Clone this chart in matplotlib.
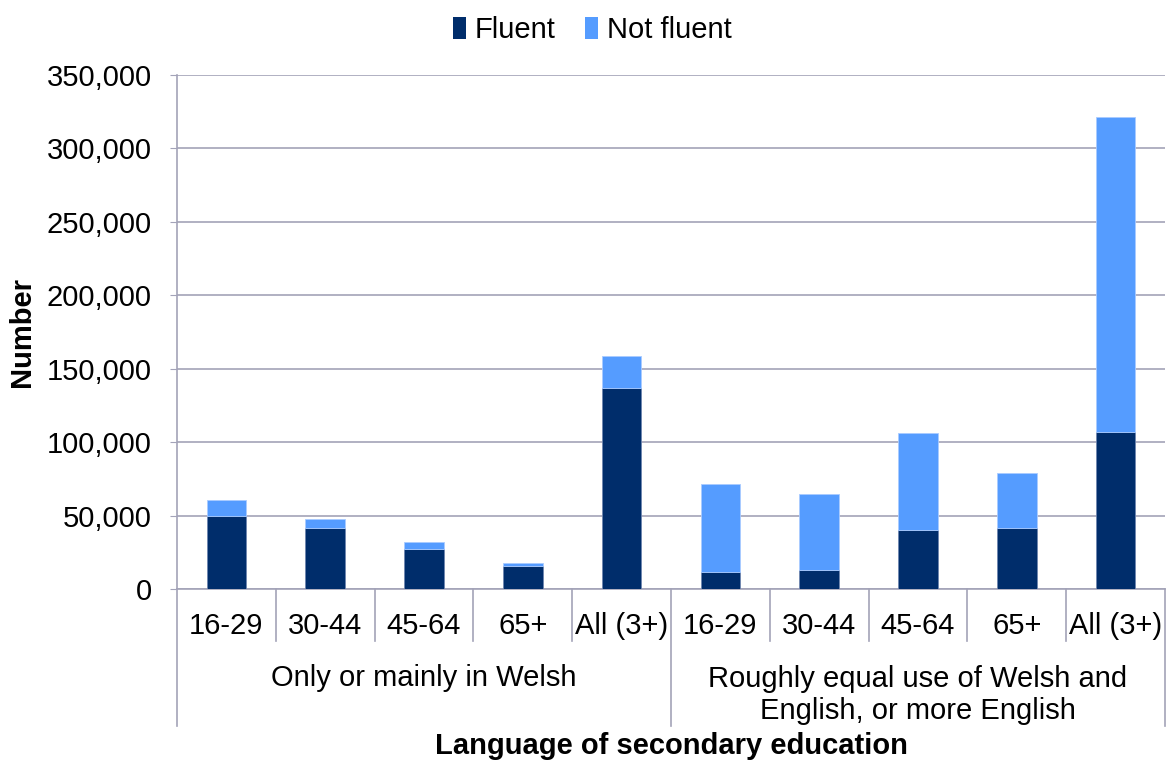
import matplotlib
matplotlib.use("Agg")
import matplotlib.pyplot as plt
from matplotlib.patches import Patch
from matplotlib.transforms import blended_transform_factory

plt.rcParams['font.family'] = ['Liberation Sans', 'DejaVu Sans']

age_labels = ["16-29", "30-44", "45-64", "65+", "All (3+)",
              "16-29", "30-44", "45-64", "65+", "All (3+)"]
group_labels = ["Only or mainly in Welsh",
                "Roughly equal use of Welsh and\nEnglish, or more English"]
fluent = [50000, 41400, 27300, 15800, 136800,
          11600, 13100, 40300, 41700, 107000]
total = [60900, 47500, 31900, 17600, 158800,
         71200, 64400, 106100, 78700, 321300]
not_fluent = [t - f for t, f in zip(total, fluent)]

c_fluent = "#002D6B"
c_not = "#559CFF"
grid_c = "#A3A3B8"
FS = 21

W, H = 1167, 762
fig = plt.figure(figsize=(W / 100, H / 100), dpi=100)
ax = fig.add_axes([177 / W, 1 - 589 / H, (1165 - 177) / W, (589 - 75) / H])

x = list(range(len(fluent)))
ax.bar(x, fluent, width=0.4, color=c_fluent, edgecolor="#6F86B0", linewidth=0.6, zorder=3)
ax.bar(x, not_fluent, bottom=fluent, width=0.4, color=c_not, edgecolor="#A9CBFF",
       linewidth=0.6, zorder=3)

ax.set_xlim(-0.5, 9.5)
ax.set_ylim(0, 350000)
ax.set_yticks(range(0, 350001, 50000))
ax.set_yticklabels([f"{v:,}" for v in range(0, 350001, 50000)], fontsize=FS)
ax.tick_params(axis='y', length=5, color=grid_c, pad=13)
ax.set_xticks([])
ax.yaxis.grid(True, color=grid_c, linewidth=1.2, zorder=0)
for s in ["top", "right"]:
    ax.spines[s].set_visible(False)
for s in ["left", "bottom"]:
    ax.spines[s].set_color(grid_c)
    ax.spines[s].set_linewidth(1.2)

ah = 589 - 75
tr = blended_transform_factory(ax.transData, ax.transAxes)
# inner separators
for xs in [0.5, 1.5, 2.5, 3.5, 5.5, 6.5, 7.5, 8.5]:
    ax.plot([xs, xs], [0, -(641 - 589) / ah], transform=tr, color=grid_c,
            lw=1.2, clip_on=False)
for xs in [-0.5, 4.5, 9.5]:
    ax.plot([xs, xs], [0, -(726 - 589) / ah], transform=tr, color=grid_c,
            lw=1.2, clip_on=False)

for xi, lab in zip(x, age_labels):
    ax.text(xi, -(626 - 589) / ah, lab, transform=tr, ha='center', va='center',
            fontsize=FS)
ax.text(2, -(678 - 589) / ah, group_labels[0], transform=tr, ha='center',
        va='center', fontsize=FS)
ax.text(7, -(695 - 589) / ah, group_labels[1], transform=tr, ha='center',
        va='center', fontsize=FS, linespacing=1.2)

fig.text(671 / W, 1 - 746 / H, "Language of secondary education", ha='center',
         va='center', fontsize=FS, fontweight='bold')
fig.text(22 / W, 1 - 332 / H, "Number", ha='center', va='center', rotation=90,
         fontsize=FS, fontweight='bold')

handles = [Patch(facecolor=c_fluent, label="Fluent"),
           Patch(facecolor=c_not, label="Not fluent")]
fig.legend(handles=handles, loc='center', bbox_to_anchor=(592 / W, 1 - 30 / H),
           ncol=2, frameon=False, fontsize=FS, handlelength=0.45,
           handleheight=0.75, handletextpad=0.3, columnspacing=1.0)

fig.savefig("out.png", dpi=100)
